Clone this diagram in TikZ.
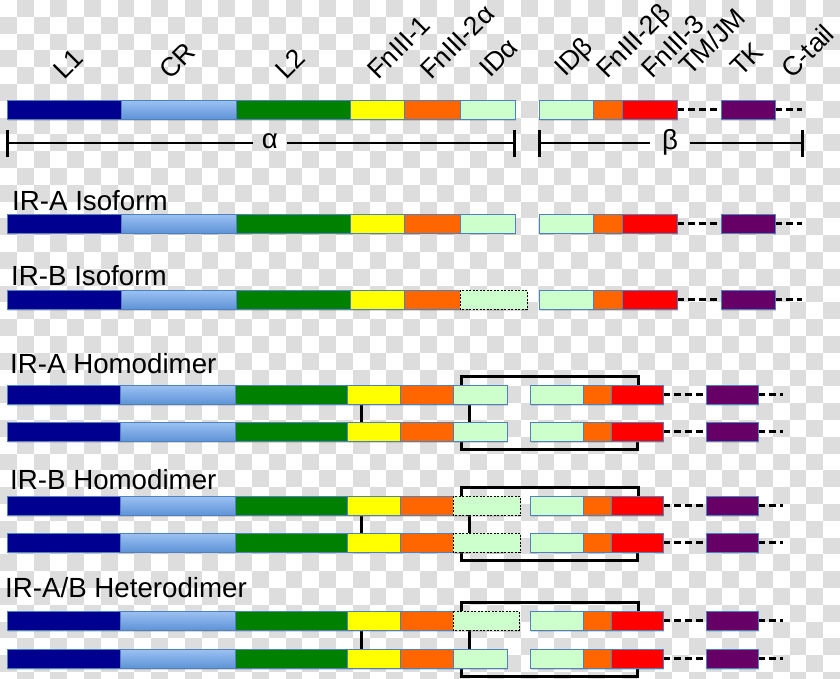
\documentclass[tikz,border=0pt]{standalone}
\usepackage{fontspec}
\setmainfont{Liberation Sans}
\usetikzlibrary{shadows}
\definecolor{chk}{HTML}{DDDDDD}
\definecolor{cLone}{HTML}{000090}
\definecolor{cCRt}{HTML}{9CC2F2}
\definecolor{cCRb}{HTML}{5F93D8}
\definecolor{cLtwo}{HTML}{008000}
\definecolor{cFnone}{HTML}{FFFF00}
\definecolor{cFntwo}{HTML}{FF6600}
\definecolor{cID}{HTML}{CCFFCC}
\definecolor{cFnthree}{HTML}{FF0000}
\definecolor{cTK}{HTML}{660066}
\definecolor{segedge}{HTML}{4F81BD}
\tikzset{
  shad/.style={drop shadow={opacity=0.3,shadow xshift=1pt,shadow yshift=-2pt}},
  seg/.style={draw=segedge,line width=0.9pt,shad},
  l1/.style={fill=cLone},
  cr/.style={top color=cCRt,bottom color=cCRb},
  l2/.style={fill=cLtwo},
  fn1/.style={fill=cFnone},
  fn2/.style={fill=cFntwo},
  idd/.style={fill=cID},
  idx/.style={fill=cID,draw=black,dash pattern=on 2pt off 1.5pt,line width=0.8pt},
  fn3/.style={fill=cFnthree},
  tk/.style={fill=cTK},
  tail/.style={line width=3pt,dash pattern=on 7pt off 4pt},
  link/.style={line width=3pt,line join=miter},
  scaleline/.style={line width=2.5pt},
  tickline/.style={line width=3pt},
  toplab/.style={rotate=45,anchor=base west,inner sep=0pt,font=\fontsize{26.5}{32}\selectfont},
  rowlab/.style={anchor=base west,inner sep=0pt,font=\fontsize{27.7}{33}\selectfont},
  greek/.style={inner sep=0pt,font=\fontsize{27.7}{33}\selectfont},
}
\newcommand\protrow[2]{%
  \foreach \xa/\xb/\st in {#2}{%
    \edef\tmpcmd{\noexpand\path[seg,\st]}%
    \tmpcmd (\xa,#1) rectangle (\xb,{#1+19});%
  }%
}
\newcommand\toprow[2]{%
  \draw[tail] (677,{#1+9.5}) -- (721,{#1+9.5});
  \draw[tail] (775,{#1+9.5}) -- (802,{#1+9.5});
  \protrow{#1}{7/121/l1,121/236/cr,236/350/l2,350/404/fn1,404/460/fn2,#2,539/593/idd,593/622/fn2,622/677/fn3,721/775/tk}%
}
\newcommand\dimrow[2]{%
  \draw[tail] (663,{#1+9.5}) -- (706,{#1+9.5});
  \draw[tail] (758,{#1+9.5}) -- (783,{#1+9.5});
  \protrow{#1}{7/120/l1,120/235/cr,235/347/l2,347/400/fn1,400/453/fn2,#2,530/583/idd,583/611/fn2,611/663/fn3,706/758/tk}%
}
\newcommand\dimlinks[2]{% #1 top of bar A, #2 top of bar B
  \draw[link] (461,{#1}) -- (461,{#1-9}) -- (638,{#1-9}) -- (638,{#1});
  \draw[link] (461,{#2+19}) -- (461,{#2+27}) -- (637,{#2+27}) -- (637,{#2+19});
  \draw[link] (361,{#1+19}) -- (361,{#2});
  \draw[link] (469,{#1+19}) -- (469,{#2});
}
\begin{document}
\begin{tikzpicture}[x=1pt,y=-1pt]
\useasboundingbox (0,0) rectangle (840,678);
\begin{scope}
\clip (0,0) rectangle (840,678);
\foreach \i in {0,...,49}{\foreach \j in {0,...,40}{%
  \pgfmathtruncatemacro\k{mod(\i+\j,2)}%
  \ifnum\k=1 \fill[chk] ({\i*16.8},{\j*16.8}) rectangle ++(16.8,16.8);\fi}}
\end{scope}

% top domain labels
\node[toplab] (tL1) at (64,81) {L1};
\node[toplab] (tCR) at (170,81) {CR};
\node[toplab] (tL2) at (286,81) {L2};
\node[toplab] (tF1) at (378,81) {FnIII-1};
\node[toplab] (tF2a) at (431,81) {FnIII-2α};
\node[toplab] (tIDa) at (490,79) {IDα};
\node[toplab] (tIDb) at (565,78) {IDβ};
\node[toplab] (tF2b) at (607,80) {FnIII-2β};
\node[toplab] (tF3) at (652,80) {FnIII-3};
\node[toplab] (tTM) at (690,77) {TM/JM};
\node[toplab] (tTK) at (741,78) {TK};
\node[toplab] (tCt) at (792,80) {C-tail};

% reference row
\toprow{100}{460/515/idd}
\node[greek] (alpha) at (270,141) {α};
\node[greek] (beta) at (670,142) {β};
\coordinate (aL) at (7,143);
\coordinate (aR) at (514,143);
\coordinate (bL) at (539,143);
\coordinate (bR) at (802,143);
\coordinate (aL2) at (253,143);
\coordinate (aR2) at (287,143);
\coordinate (bL2) at (650,143);
\coordinate (bR2) at (690,143);
\draw[scaleline] (aL) -- (aL2);
\draw[scaleline] (aR2) -- (aR);
\draw[scaleline] (bL) -- (bL2);
\draw[scaleline] (bR2) -- (bR);
\foreach \p in {aL,aR,bL,bR}{\draw[tickline] ([yshift=13.5pt]\p) -- ([yshift=-13.5pt]\p);}

% isoforms
\node[rowlab] (lA) at (12,210) {IR-A Isoform};
\toprow{214}{460/515/idd}
\node[rowlab] (lB) at (11,285) {IR-B Isoform};
\toprow{290}{460/527/idx}

% IR-A homodimer
\node[rowlab] (lAA) at (10,373) {IR-A Homodimer};
\dimlinks{385}{422}
\dimrow{385}{453/507/idd}
\dimrow{422}{453/507/idd}

% IR-B homodimer
\node[rowlab] (lBB) at (10,489) {IR-B Homodimer};
\dimlinks{496}{533}
\dimrow{496}{453/520/idx}
\dimrow{533}{453/520/idx}

% IR-A/B heterodimer
\node[rowlab] (lAB) at (5,597) {IR-A/B Heterodimer};
\dimlinks{611}{649}
\dimrow{611}{453/519/idx}
\dimrow{649}{453/507/idd}
\end{tikzpicture}
\end{document}
